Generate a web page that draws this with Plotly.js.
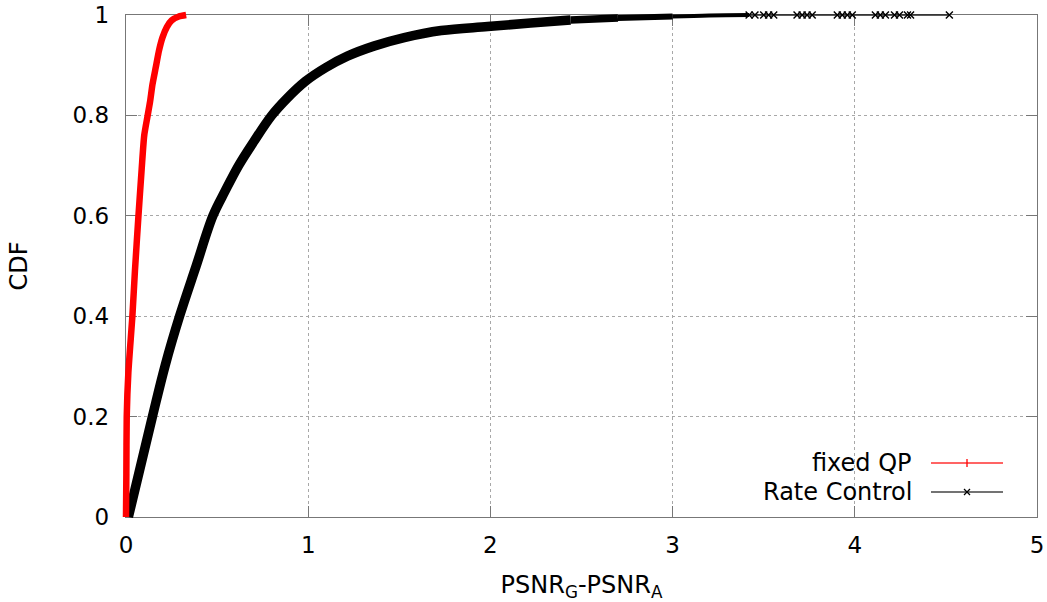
<!DOCTYPE html>
<html>
<head>
<meta charset="utf-8">
<script src="https://cdn.plot.ly/plotly-3.0.1.min.js"></script>
<style>html,body{margin:0;padding:0;background:#fff;}#chart{width:1047px;height:602px;}</style>
</head>
<body>
<div id="chart"></div>
<script>
// Data
const fixedQP_x = [0.0, 0.002, 0.004, 0.013, 0.035, 0.049, 0.068, 0.086, 0.10, 0.119, 0.132, 0.145, 0.163, 0.181, 0.20, 0.224, 0.25, 0.29, 0.33];
const fixedQP_y = [0.0, 0.086, 0.2, 0.288, 0.4, 0.49, 0.598, 0.693, 0.76, 0.80, 0.827, 0.861, 0.895, 0.929, 0.955, 0.976, 0.989, 0.997, 1.0];

const rateCtrl_x = [0.013, 0.145, 0.215, 0.294, 0.385, 0.477, 0.545, 0.618, 0.70, 0.80, 0.884, 0.985, 1.095, 1.215, 1.36, 1.527, 1.73, 1.985, 2.22, 2.44, 2.7, 3.0, 3.2, 3.42];
const rateCtrl_y = [0.0, 0.2, 0.302, 0.4, 0.5, 0.6, 0.65, 0.70, 0.747, 0.80, 0.834, 0.868, 0.895, 0.918, 0.938, 0.955, 0.969, 0.977, 0.984, 0.99, 0.994, 0.997, 0.999, 1.0];

// sparse tail of the Rate Control CDF (y = 1)
const rateCtrlTail_x = [3.42, 3.452, 3.50, 3.527, 3.555, 3.683, 3.711, 3.738, 3.766, 3.904, 3.931, 3.959, 3.986, 4.113, 4.14, 4.168, 4.218, 4.245, 4.289, 4.306, 4.519];
const rateCtrlTail_y = [1, 1, 1, 1, 1, 1, 1, 1, 1, 1, 1, 1, 1, 1, 1, 1, 1, 1, 1, 1, 1];

const seriesNames = ["fixed QP", "Rate Control"];
const xTicks = [0, 1, 2, 3, 4, 5];
const yTicks = [0, 0.2, 0.4, 0.6, 0.8, 1];

// ---- geometry (pixels) ----
const W = 1047, H = 602;
const PL = 126, PR = 1037, PT = 15, PB = 517;          // main plot box
const ML = 110, MR = 4, MT = 3, MB = 78;               // paper margins
const paperW = W - ML - MR, paperH = H - MT - MB;
const xMin = 0, xMax = 5, yMin = 0, yMax = 1;
const pxPerX = (PR - PL) / (xMax - xMin), pxPerY = (PB - PT) / (yMax - yMin);
const fx = px => (px - ML) / paperW;
const fy = py => (H - MB - py) / paperH;

// split the dense Rate Control curve into pieces whose drawn thickness shrinks
function piece(lo, hi) {
  const xs = [], ys = [];
  for (let i = 0; i < rateCtrl_x.length; i++) {
    if (rateCtrl_x[i] >= lo && rateCtrl_x[i] <= hi) { xs.push(rateCtrl_x[i]); ys.push(rateCtrl_y[i]); }
  }
  return {xs, ys};
}
const pieces = [[0, 2.44, 9.5], [2.44, 2.7, 7.5], [2.7, 3.0, 6], [3.0, 3.42, 4.2]];

const traces = [
  // empty trace so the visible main axes get drawn
  {x: [], y: [], xaxis: 'x', yaxis: 'y', mode: 'lines', showlegend: false, hoverinfo: 'skip'},
  {x: rateCtrlTail_x, y: rateCtrlTail_y, xaxis: 'x2', yaxis: 'y2', mode: 'lines+markers',
   line: {color: '#222', width: 1.3},
   marker: {symbol: 'x-thin', size: 7, line: {color: '#000', width: 1.4}}, showlegend: false, cliponaxis: false}
];
pieces.slice().reverse().forEach(p => {
  const s = piece(p[0], p[1]);
  traces.push({x: s.xs, y: s.ys, xaxis: 'x2', yaxis: 'y2', mode: 'lines', name: seriesNames[1],
    line: {color: '#000', width: p[2], shape: 'spline', smoothing: 1}, showlegend: false});
});
traces.push({x: fixedQP_x, y: fixedQP_y, xaxis: 'x2', yaxis: 'y2', mode: 'lines', name: seriesNames[0],
  line: {color: '#ff0000', width: 6.5, shape: 'spline', smoothing: 0.6}, showlegend: false});

const tickFont = {family: 'DejaVu Sans, sans-serif', size: 23, color: '#000'};
const titleFont = {family: 'DejaVu Sans, sans-serif', size: 24, color: '#000'};

const legLine1 = 931, legLine2 = 1003, legMark = 967, legText = 914;
const legRows = [463, 492];

const axisCommon = {
  showline: true, linecolor: '#777', linewidth: 1.2, mirror: 'ticks',
  ticks: 'inside', ticklen: 11, tickcolor: '#777', tickwidth: 1.2,
  showgrid: true, gridcolor: '#a8a8a8', griddash: 'dot', gridwidth: 1,
  zeroline: false, tickfont: tickFont
};

const layout = {
  width: W, height: H,
  margin: {l: ML, r: MR, t: MT, b: MB},
  paper_bgcolor: '#fff', plot_bgcolor: 'rgba(0,0,0,0)',
  font: tickFont,
  showlegend: false,
  xaxis: Object.assign({}, axisCommon, {
    domain: [fx(PL), fx(PR)], anchor: 'y',
    range: [xMin, xMax], tickvals: xTicks, ticktext: xTicks.map(String),
    ticklabelstandoff: 7,
    title: {text: 'PSNR<sub>G</sub>-PSNR<sub>A</sub>', font: titleFont, standoff: 19}
  }),
  yaxis: Object.assign({}, axisCommon, {
    domain: [fy(PB), fy(PT)], anchor: 'x',
    range: [yMin, yMax], tickvals: yTicks, ticktext: yTicks.map(String),
    ticklabelstandoff: 11,
    title: {text: 'CDF', font: titleFont, standoff: 38}
  }),
  // invisible second subplot with identical scale but a larger clip box
  xaxis2: {
    domain: [0, 1], anchor: 'y2',
    range: [xMin - (PL - ML) / pxPerX, xMax + (W - MR - PR) / pxPerX],
    visible: false, showgrid: false, zeroline: false
  },
  yaxis2: {
    domain: [0, 1], anchor: 'x2',
    range: [yMin - ((H - MB) - PB) / pxPerY, yMax + (PT - MT) / pxPerY],
    visible: false, showgrid: false, zeroline: false
  },
  annotations: [0, 1].map(i => ({
    xref: 'paper', yref: 'paper', x: fx(legText), y: fy(legRows[i]), text: seriesNames[i],
    showarrow: false, xanchor: 'right', yanchor: 'middle', font: titleFont
  })),
  shapes: [
    {type: 'line', xref: 'paper', yref: 'paper', x0: fx(legLine1), x1: fx(legLine2), y0: fy(legRows[0]), y1: fy(legRows[0]), line: {color: '#ff3030', width: 1.3}},
    {type: 'line', xref: 'paper', yref: 'paper', xsizemode: 'pixel', ysizemode: 'pixel', xanchor: fx(legMark), yanchor: fy(legRows[0]), x0: 0, x1: 0, y0: -4, y1: 4, line: {color: '#ff0000', width: 1.3}},
    {type: 'line', xref: 'paper', yref: 'paper', x0: fx(legLine1), x1: fx(legLine2), y0: fy(legRows[1]), y1: fy(legRows[1]), line: {color: '#444', width: 1.3}},
    {type: 'line', xref: 'paper', yref: 'paper', xsizemode: 'pixel', ysizemode: 'pixel', xanchor: fx(legMark), yanchor: fy(legRows[1]), x0: -3, x1: 3, y0: -3, y1: 3, line: {color: '#000', width: 1.3}},
    {type: 'line', xref: 'paper', yref: 'paper', xsizemode: 'pixel', ysizemode: 'pixel', xanchor: fx(legMark), yanchor: fy(legRows[1]), x0: -3, x1: 3, y0: 3, y1: -3, line: {color: '#000', width: 1.3}}
  ]
};

Plotly.newPlot('chart', traces, layout, {staticPlot: true, displayModeBar: false});
</script>
</body>
</html>
